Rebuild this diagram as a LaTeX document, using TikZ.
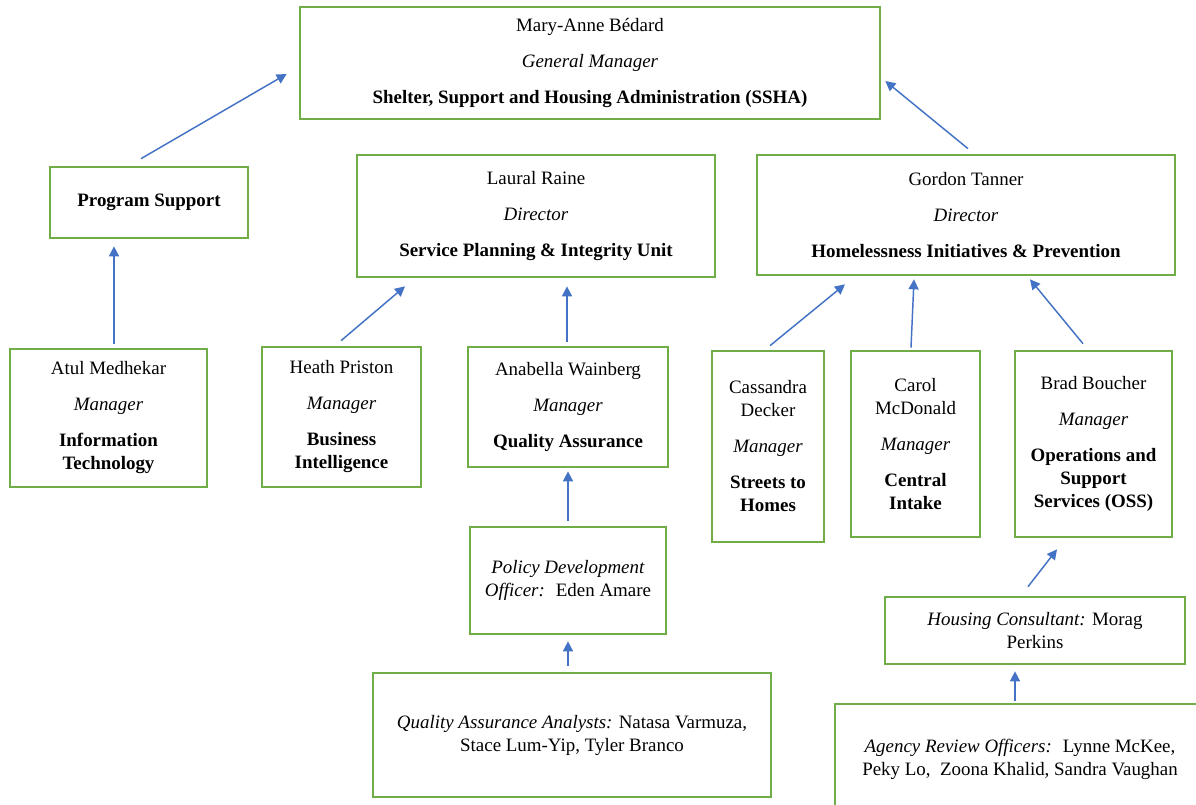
\documentclass[tikz,border=0pt]{standalone}
\usepackage{fontspec}
\setmainfont{Liberation Serif}
\usetikzlibrary{arrows.meta}
\definecolor{boxgreen}{HTML}{70AD47}
\definecolor{arrblue}{HTML}{4472C4}
\tikzset{
  box/.style 2 args={draw=boxgreen, line width=2pt, fill=white, align=center,
    inner sep=0pt, minimum width=#1*0.75pt, minimum height=#2*0.75pt,
    font=\fontsize{14.2}{17.25}\selectfont},
  arr/.style={draw=arrblue, line width=1.1pt, -{Triangle[width=7.5pt,length=7.5pt]}}
}
\newcommand{\pgap}{\\[9.75pt]}
\begin{document}
\begin{tikzpicture}[x=0.75pt,y=-0.75pt]
\useasboundingbox (0,0) rectangle (1196,804);
\clip (0,0) rectangle (1196,804);
\fill[white] (0,0) rectangle (1196,804);

\node[box={580}{112}] (top) at (590,63) {Mary-Anne Bédard\pgap\textit{General Manager}\pgap\textbf{Shelter, Support and Housing Administration (SSHA)}};
\node[box={198}{71}] (ps) at (149,202.5) {\textbf{Program Support}};
\node[box={358}{122}] (lr) at (536,216) {Laural Raine\pgap\textit{Director}\pgap\textbf{Service Planning \& Integrity Unit}};
\node[box={418}{120}] (gt) at (966,215) {Gordon Tanner\pgap\textit{Director}\pgap\textbf{Homelessness Initiatives \& Prevention}};
\node[box={197}{138}] (am) at (108.5,418) {Atul Medhekar\pgap\textit{Manager}\pgap\textbf{Information}\\\textbf{Technology}};
\node[box={159}{140}] (hp) at (341.5,417) {Heath Priston\pgap\textit{Manager}\pgap\textbf{Business}\\\textbf{Intelligence}};
\node[box={200}{120}] (aw) at (568,407) {Anabella Wainberg\pgap\textit{Manager}\pgap\textbf{Quality Assurance}};
\node[box={112}{191}] (cd) at (768,446.5) {Cassandra\\Decker\pgap\textit{Manager}\pgap\textbf{Streets to}\\\textbf{Homes}};
\node[box={129}{186}] (cm) at (915.5,444) {Carol\\McDonald\pgap\textit{Manager}\pgap\textbf{Central}\\\textbf{Intake}};
\node[box={157}{186}] (bb) at (1093.5,444) {Brad Boucher\pgap\textit{Manager}\pgap\textbf{Operations and}\\\textbf{Support}\\\textbf{Services (OSS)}};
\node[box={196}{107}] (pd) at (568,580.5) {\textit{Policy Development}\\\textit{Officer:}~ Eden Amare};
\node[box={398}{124}] (qa) at (572,735) {\textit{Quality Assurance Analysts:} Natasa Varmuza,\\Stace Lum-Yip, Tyler Branco};
\node[box={300}{67}] (hc) at (1035,630.5) {\textit{Housing Consultant:} Morag\\Perkins};
\node[box={370}{110}] (ar) at (1020,759) {\textit{Agency Review Officers:}~ Lynne McKee,\\Peky Lo,~ Zoona Khalid, Sandra Vaughan};

\draw[arr] ([shift={(-8,-7)}]ps.north) -- ([shift={(-12,11)}]top.west);
\draw[arr] ([shift={(2,-5)}]gt.north) -- ([shift={(4,18)}]top.east);
\draw[arr] ([shift={(5.5,-4)}]am.north) -- ([shift={(-35,7)}]ps.south);
\draw[arr] ([shift={(-0.5,-5)}]hp.north) -- ([shift={(-131,8)}]lr.south);
\draw[arr] ([shift={(-1,-4)}]aw.north) -- ([shift={(31,8)}]lr.south);
\draw[arr] ([shift={(2,-4)}]cd.north) -- ([shift={(-121,8)}]gt.south);
\draw[arr] ([shift={(-4.5,-2)}]cm.north) -- ([shift={(-52,3)}]gt.south);
\draw[arr] ([shift={(-10.5,-6)}]bb.north) -- ([shift={(64,3)}]gt.south);
\draw[arr] ([shift={(0,-5)}]pd.north) -- ([shift={(0,3)}]aw.south);
\draw[arr] ([shift={(-4,-6)}]qa.north) -- ([shift={(0,6)}]pd.south);
\draw[arr] ([shift={(-7,-9)}]hc.north) -- ([shift={(-36.5,11)}]bb.south);
\draw[arr] ([shift={(-5,-2)}]ar.north) -- ([shift={(-20,6)}]hc.south);
\end{tikzpicture}
\end{document}
